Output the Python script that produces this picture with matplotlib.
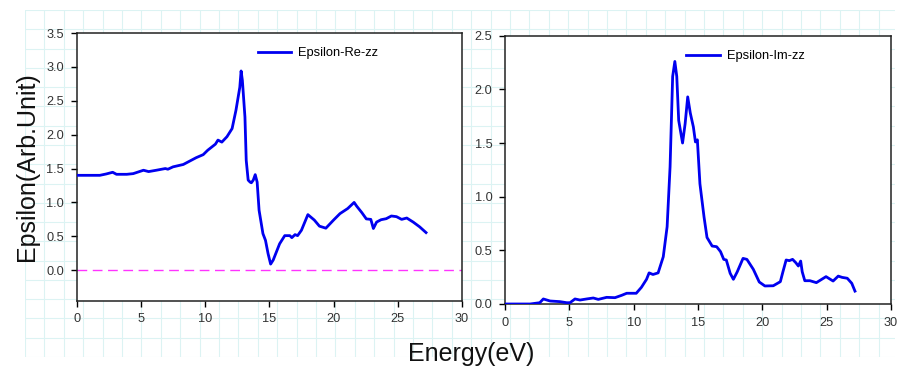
import numpy as np
import matplotlib
matplotlib.use("Agg")
import matplotlib.pyplot as plt

plt.rcParams['font.family'] = ['Liberation Sans', 'DejaVu Sans']

# ---- data ----
re_energy = [0, 1.8, 2.3, 2.8, 3.1, 3.9, 4.4, 5.2, 5.6, 6.2, 6.9, 7.1, 7.5, 8.3, 8.8,
             9.3, 9.85, 10.2, 10.8, 11.0, 11.3, 11.7, 12.1, 12.4, 12.7, 12.8, 12.9,
             13.1, 13.2, 13.35, 13.5, 13.6, 13.75, 13.9, 14.05, 14.2, 14.5, 14.7,
             14.9, 15.1, 15.3, 15.55, 15.8, 16.2, 16.6, 16.75, 17.0, 17.2, 17.5,
             18.0, 18.5, 18.9, 19.4, 20.0, 20.5, 21.1, 21.6, 21.8, 22.2, 22.55,
             22.9, 23.1, 23.35, 23.7, 24.1, 24.5, 24.9, 25.3, 25.7, 26.2, 26.7, 27.2]
re_values = [1.40, 1.40, 1.42, 1.445, 1.415, 1.415, 1.425, 1.475, 1.455, 1.475, 1.50,
             1.49, 1.525, 1.56, 1.61, 1.66, 1.705, 1.77, 1.86, 1.92, 1.89, 1.97, 2.09,
             2.36, 2.70, 2.94, 2.80, 2.26, 1.62, 1.33, 1.30, 1.29, 1.33, 1.41, 1.30,
             0.885, 0.54, 0.44, 0.245, 0.09, 0.15, 0.27, 0.39, 0.51, 0.51, 0.48,
             0.525, 0.51, 0.59, 0.82, 0.74, 0.65, 0.62, 0.74, 0.835, 0.91, 1.00,
             0.945, 0.85, 0.757, 0.75, 0.615, 0.71, 0.745, 0.76, 0.80, 0.79, 0.75,
             0.77, 0.71, 0.64, 0.555]

im_energy = [0, 1.95, 2.7, 2.98, 3.5, 4.27, 4.8, 5.05, 5.44, 5.83, 6.35, 6.86, 7.25,
             7.9, 8.55, 9.07, 9.46, 9.97, 10.2, 10.6, 11.0, 11.2, 11.5, 11.9, 12.3,
             12.6, 12.83, 13.03, 13.2, 13.35, 13.5, 13.8, 14.0, 14.2, 14.4, 14.64,
             14.8, 14.95, 15.15, 15.47, 15.7, 16.1, 16.45, 16.75, 17.0, 17.2, 17.5,
             17.75, 18.05, 18.5, 18.8, 19.3, 19.76, 20.2, 20.85, 21.4, 21.6, 21.85,
             22.1, 22.35, 22.6, 22.8, 22.98, 23.1, 23.3, 23.7, 24.2, 24.95, 25.5,
             25.9, 26.2, 26.6, 26.95, 27.2]
im_values = [0, 0, 0.012, 0.047, 0.028, 0.022, 0.012, 0.012, 0.047, 0.037, 0.047,
             0.056, 0.043, 0.062, 0.059, 0.081, 0.10, 0.10, 0.10, 0.155, 0.23, 0.29,
             0.275, 0.29, 0.44, 0.72, 1.28, 2.12, 2.26, 2.12, 1.71, 1.50, 1.68, 1.93,
             1.78, 1.65, 1.51, 1.53, 1.12, 0.81, 0.62, 0.54, 0.534, 0.488, 0.416,
             0.41, 0.286, 0.23, 0.30, 0.425, 0.416, 0.323, 0.205, 0.168, 0.17, 0.208,
             0.30, 0.41, 0.404, 0.416, 0.385, 0.354, 0.40, 0.30, 0.217, 0.217, 0.199,
             0.255, 0.214, 0.26, 0.248, 0.24, 0.193, 0.12]

x_ticks = [0, 5, 10, 15, 20, 25, 30]
re_yticks = [0.0, 0.5, 1.0, 1.5, 2.0, 2.5, 3.0, 3.5]
im_yticks = [0.0, 0.5, 1.0, 1.5, 2.0, 2.5]
re_label = "Epsilon-Re-zz"
im_label = "Epsilon-Im-zz"
y_title = "Epsilon(Arb.Unit)"
x_title = "Energy(eV)"

W, H = 901, 370
fig = plt.figure(figsize=(W / 100, H / 100), dpi=100)
fig.patch.set_facecolor('white')

# background graph-paper grid
bg = fig.add_axes([25 / W, 1 - 357 / H, 870 / W, 347 / H], zorder=0)
bg.set_xlim(0, 870)
bg.set_ylim(0, 347)
bg.set_xticks(np.arange(0, 871, 19.4))
bg.set_yticks(np.arange(0, 348, 19.3))
bg.grid(True, color='#dcf3f3', linewidth=0.8)
bg.tick_params(length=0, labelbottom=False, labelleft=False)
for s in bg.spines.values():
    s.set_visible(False)
bg.set_facecolor('white')

blue = '#0000f0'
tick_color = '#333333'


def style(ax):
    for s in ax.spines.values():
        s.set_linewidth(1.1)
        s.set_color('#222222')
    ax.tick_params(direction='out', length=4, width=1.0, labelsize=9.2,
                   labelcolor=tick_color, pad=5, top=False, right=False)
    ax.set_xlim(0, 30)
    ax.set_xticks(x_ticks)
    ax.set_xticklabels([str(t) for t in x_ticks])


ax1 = fig.add_axes([76.7 / W, 1 - 300.7 / H, 385.3 / W, 267.7 / H], zorder=2)
ax1.plot(re_energy, re_values, color=blue, lw=2.0, label=re_label, zorder=3)
ax1.axhline(0, color='#ff33ff', lw=1.0, dashes=(7, 4), zorder=2)
ax1.set_ylim(-0.45, 3.5)
ax1.set_yticks(re_yticks)
ax1.set_yticklabels([f"{v:.1f}" for v in re_yticks])
style(ax1)
ax1.legend(loc='upper left', bbox_to_anchor=(0.44, 0.99), frameon=False,
           fontsize=9.3, handlelength=2.6, handletextpad=0.5)

ax2 = fig.add_axes([505 / W, 1 - 304 / H, 386 / W, 268.3 / H], zorder=2)
ax2.plot(im_energy, im_values, color=blue, lw=2.0, label=im_label, zorder=3)
ax2.set_ylim(0, 2.5)
ax2.set_yticks(im_yticks)
ax2.set_yticklabels([f"{v:.1f}" for v in im_yticks])
style(ax2)
ax2.legend(loc='upper left', bbox_to_anchor=(0.44, 0.99), frameon=False,
           fontsize=9.3, handlelength=2.6, handletextpad=0.5)

fig.text(27 / W, 1 - 167 / H, y_title, rotation=90, ha='center', va='center',
         fontsize=18, color='#111111')
fig.text(471 / W, 1 - 354 / H, x_title, ha='center', va='center',
         fontsize=18, color='#111111')

fig.savefig('out.png', dpi=100)
